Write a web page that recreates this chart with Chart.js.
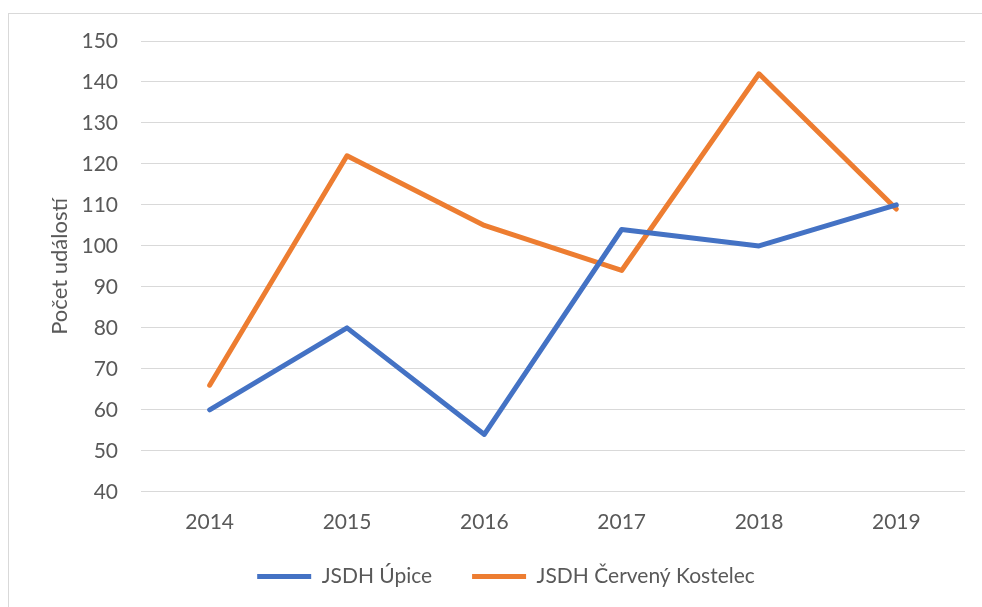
<!DOCTYPE html>
<html>
<head>
<meta charset="utf-8">
<script src="https://cdn.jsdelivr.net/npm/chart.js@4"></script>
<style>
  html, body { margin: 0; padding: 0; background: #fff; overflow: hidden; }
  #frame { position: absolute; left: 8px; top: 13px; width: 1000px; height: 620px; border: 1px solid #d9d9d9; }
  #wrap { position: absolute; left: 0; top: 0; width: 982px; height: 607px; }
</style>
</head>
<body>
<div id="frame"></div>
<div id="wrap"><canvas id="lineChart"></canvas></div>
<script>
var roky = ['2014', '2015', '2016', '2017', '2018', '2019'];
var upice = [60, 80, 54, 104, 100, 110]; // JSDH Úpice
var kostelec = [66, 122, 105, 94, 142, 109]; // JSDH Červený Kostelec
var yMin = 40, yMax = 150, yStep = 10;

var font = "Lato, 'Open Sans', sans-serif";
var textColor = '#595959';

var ctx = document.getElementById('lineChart').getContext('2d');
var lineChart = new Chart(ctx, {
  type: 'line',
  data: {
    labels: roky,
    datasets: [{
      label: 'JSDH Úpice',
      data: upice,
      borderColor: '#4472c4',
      backgroundColor: '#4472c4',
      borderWidth: 5,
      borderCapStyle: 'round',
      borderJoinStyle: 'round',
      pointRadius: 0,
      fill: false,
      tension: 0
    }, {
      label: 'JSDH Červený Kostelec',
      data: kostelec,
      borderColor: '#ed7d31',
      backgroundColor: '#ed7d31',
      borderWidth: 5,
      borderCapStyle: 'round',
      borderJoinStyle: 'round',
      pointRadius: 0,
      fill: false,
      tension: 0
    }]
  },
  options: {
    responsive: true,
    maintainAspectRatio: false,
    animation: false,
    layout: {
      padding: { left: 47, right: 17, top: 41, bottom: 10 }
    },
    plugins: {
      tooltip: { enabled: false },
      legend: {
        position: 'bottom',
        labels: {
          usePointStyle: true,
          pointStyle: 'line',
          pointStyleWidth: 54,
          boxHeight: 20,
          padding: 13,
          color: textColor,
          font: { family: font, size: 21 },
          generateLabels: function(chart) {
            var items = Chart.defaults.plugins.legend.labels.generateLabels(chart);
            // a bit more room between the two entries, like the original
            items[0].text += '     ';
            return items;
          }
        }
      }
    },
    scales: {
      x: {
        offset: true,
        grid: { display: false, drawTicks: false },
        border: { display: false },
        ticks: {
          color: textColor,
          padding: 18,
          font: { family: font, size: 21 }
        }
      },
      y: {
        min: yMin,
        max: yMax,
        afterFit: function(scale) { scale.width = 94; },
        grid: { color: '#d9d9d9', lineWidth: 1, drawTicks: false },
        border: { display: false },
        ticks: {
          stepSize: yStep,
          color: textColor,
          padding: 23,
          font: { family: font, size: 21 }
        },
        title: {
          display: true,
          text: 'Počet událostí',
          color: textColor,
          padding: { top: 0, bottom: 0 },
          font: { family: font, size: 22 }
        }
      }
    }
  }
});
</script>
</body>
</html>
